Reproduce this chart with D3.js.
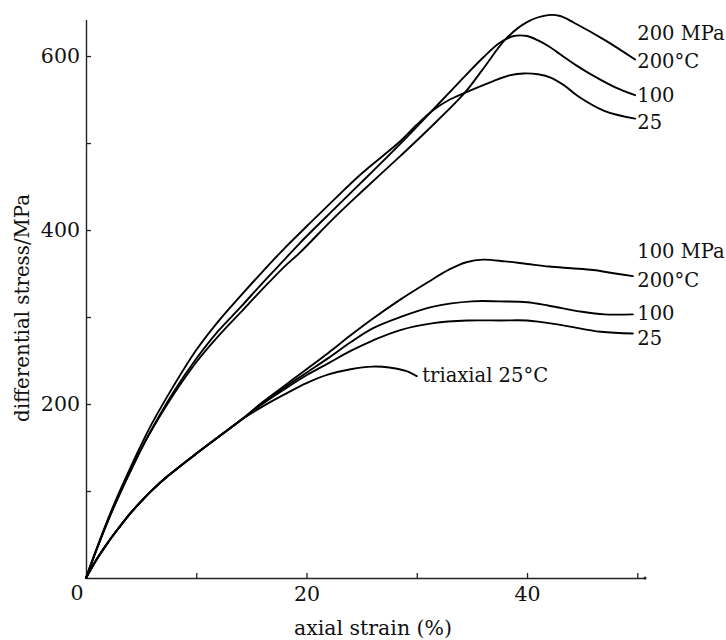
<!DOCTYPE html>
<html>
<head>
<meta charset="utf-8">
<script src="https://cdn.jsdelivr.net/npm/d3@7"></script>
<style>
  html, body { margin: 0; padding: 0; background: #fff; }
  svg { display: block; }
  text { font-family: "DejaVu Serif", "Liberation Serif", serif; fill: #111; }
</style>
</head>
<body>
<svg id="chart" width="726" height="640"></svg>
<script>
// ---- data: [axial strain %, differential stress MPa] ----
const p200_25C = [[0,0],[1,35],[2,68],[3,98],[4,126],[5,153],[6,178],[8,222],[10,262],[12,295],[14,324],[16,352],[18,379],[20,404],[22.5,435],[25,465],[28.5,502],[30,521],[31.5,538],[33,550],[34.4,558],[36.9,571],[38.5,578],[39.7,580],[41,579],[42.2,575],[43.4,566],[44.6,554],[47,537],[49.8,528]];
const p200_100C = [[0,0],[1,34],[2,66],[3,95],[4,122],[5,148],[6,172],[8,215],[10,252],[12,284],[14,311],[16,339],[18,366],[19.4,385],[22.5,424],[25,455],[28.5,499],[31.9,544],[34,572],[36,598],[37.5,615],[38.8,623],[40,623],[41,618],[42,611],[43,602],[44.5,589],[46.2,576],[48,564],[49.8,555]];
const p200_200C = [[0,0],[1,34],[2,66],[3,95],[4,122],[5,148],[6,171],[8,212],[10,248],[12,278],[14,305],[16,332],[18,358],[19.4,374],[22.5,414],[25,444],[28.5,485],[31,515],[34.3,557],[36,585],[38.1,620],[40,639],[41.9,647],[43,646],[44.3,638],[47.1,618],[49.8,596]];
const p100_200C = [[0,0],[1,22],[2,41],[3,58],[4,74],[5,88],[6,101],[7.5,118],[10,143],[12,162],[14,181],[16,202],[18,221],[20,240],[22,259],[24,279],[26,298],[28.5,320],[31,340],[33,355],[34.5,363],[36,366],[38,364],[40,361],[42,358],[44,356],[46,354],[48,350],[49.6,347]];
const p100_100C = [[0,0],[1,22],[2,41],[3,58],[4,74],[5,88],[6,101],[7.5,118],[10,143],[12,162],[14,181],[16,201],[18,219],[20,236],[22,253],[24,271],[26,287],[28.5,300],[31.5,312],[35,318],[37.5,318],[40,317],[42,313],[45,306],[47,303],[49.6,303]];
const p100_25C = [[0,0],[1,22],[2,41],[3,58],[4,74],[5,88],[6,101],[7.5,118],[10,143],[12,162],[14,181],[16,200],[18,217],[20,233],[22,247],[24,261],[26,273],[28.5,285],[31.5,293],[34.6,296],[37.6,296],[40,296],[43,291],[46.7,283],[49.6,281]];
const triaxial25C = [[0,0],[1,22],[2,41],[3,58],[4,74],[5,88],[6,101],[7.5,118],[10,143],[12,162],[14,181],[16,197],[18,211],[20,224],[22,234],[24,240],[26,243],[27.5,242],[29,238],[30,232]];

const xTicks = [10, 20, 30, 40, 50];
const xTickLabels = {20: "20", 40: "40"};
const yTicks = [100, 200, 300, 400, 500, 600];
const yTickLabels = {200: "200", 400: "400", 600: "600"};

const curveLabels = [
  ["200 MPa", 50.0, 40], ["200\u00B0C", 50.0, 68], ["100", 50.0, 102], ["25", 50.0, 129],
  ["100 MPa", 50.0, 258], ["200\u00B0C", 50.0, 287], ["100", 50.0, 320], ["25", 50.0, 345],
  ["triaxial 25\u00B0C", 30.5, 382]
];
const xTitle = "axial strain (%)";
const yTitle = "differential stress/MPa";

// ---- drawing ----
const svg = d3.select("#chart");
const x = d3.scaleLinear().domain([0, 50.7]).range([86, 645]);
const y = d3.scaleLinear().domain([0, 642]).range([578, 19.5]);

const axisColor = "#222";

// x axis
const gx = svg.append("g").attr("transform", `translate(0,${y(0)})`)
  .call(d3.axisBottom(x).tickValues(xTicks).tickSizeInner(-5).tickSizeOuter(0)
        .tickPadding(8).tickFormat(d => xTickLabels[d] || ""));
gx.select(".domain").attr("stroke", axisColor).attr("stroke-width", 1.4);
gx.selectAll(".tick line").attr("stroke", axisColor).attr("stroke-width", 1.3);
gx.selectAll(".tick text").attr("font-size", 20.5).attr("font-family", "DejaVu Serif").attr("fill", "#111");
svg.append("circle").attr("cx", x(50.7)).attr("cy", y(0)).attr("r", 1.6).attr("fill", axisColor);

// y axis
const gy = svg.append("g").attr("transform", `translate(${x(0)},0)`)
  .call(d3.axisLeft(y).tickValues(yTicks).tickSizeInner(-5).tickSizeOuter(0)
        .tickPadding(6).tickFormat(d => yTickLabels[d] || ""));
gy.select(".domain").attr("stroke", axisColor).attr("stroke-width", 1.4);
gy.selectAll(".tick line").attr("stroke", axisColor).attr("stroke-width", 1.3);
gy.selectAll(".tick text").attr("font-size", 20.5).attr("font-family", "DejaVu Serif").attr("fill", "#111");

// origin label
svg.append("text").attr("x", x(0) - 9).attr("y", 600).attr("text-anchor", "middle")
  .attr("font-size", 20.5).text("0");

// axis titles
svg.append("text").attr("x", 373).attr("y", 635).attr("text-anchor", "middle")
  .attr("font-size", 20.5).text(xTitle);
svg.append("text").attr("transform", "translate(29,308) rotate(-90)")
  .attr("text-anchor", "middle").attr("font-size", 19.8).text(yTitle);

// curves
const line = d3.line().x(d => x(d[0])).y(d => y(d[1])).curve(d3.curveCatmullRom.alpha(0.5));
const series = [p200_25C, p200_100C, p200_200C, p100_200C, p100_100C, p100_25C, triaxial25C];
svg.append("g").selectAll("path").data(series).join("path")
  .attr("d", line).attr("fill", "none").attr("stroke", "#000").attr("stroke-width", 1.9)
  .attr("stroke-linejoin", "round").attr("stroke-linecap", "round");

// curve labels
svg.append("g").selectAll("text").data(curveLabels).join("text")
  .attr("x", d => x(d[1])).attr("y", d => d[2]).attr("font-size", 19.5).text(d => d[0]);
</script>
</body>
</html>
